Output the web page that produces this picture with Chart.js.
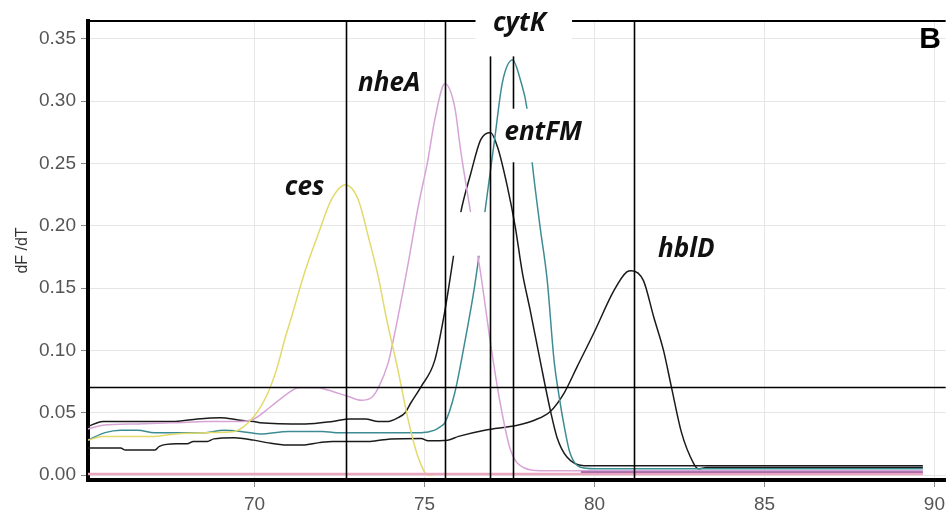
<!DOCTYPE html>
<html lang="en">
  <head>
    <meta charset="utf-8" />
    <title>Melt curve derivative</title>
    <style>
      body { margin: 0; background: #fff; }
      .chartBox { width: 951px; height: 519px; }
    </style>
  </head>
  <body>
    <div class="chartBox">
      <canvas id="myChart" width="951" height="519"></canvas>
    </div>
    <script src="https://cdn.jsdelivr.net/npm/chart.js"></script>
    <script>
      // melt curves, temperature (C) vs dF/dT
      const cesTemp = [65.1, 65.54, 66.06, 67.06, 67.67, 68.61, 69.4, 69.98, 70.36, 70.65, 70.9, 71.09, 71.3, 71.5, 71.88, 72.26, 72.67, 73.05, 73.35, 73.64, 73.87, 74.22, 74.52, 74.81, 75.1, 75.25];
      const cesVal = [0.028, 0.031, 0.031, 0.031, 0.033, 0.034, 0.035, 0.047, 0.064, 0.085, 0.11, 0.127, 0.147, 0.165, 0.194, 0.221, 0.233, 0.221, 0.191, 0.159, 0.127, 0.084, 0.044, 0.0144, 0.0, 0.0];

      const nheATemp = [65.1, 65.54, 66.56, 67.67, 68.61, 69.57, 69.98, 70.48, 70.95, 71.3, 71.88, 72.18, 72.76, 73.14, 73.43, 73.64, 73.93, 74.08, 74.52, 74.81, 75.1, 75.3, 75.6, 75.89, 76.06, 76.36, 76.65, 76.94, 77.21, 77.53, 77.94, 78.4, 89.66];
      const nheAVal = [0.037, 0.04, 0.041, 0.042, 0.043, 0.043, 0.045, 0.055, 0.065, 0.07, 0.07, 0.068, 0.063, 0.06, 0.062, 0.07, 0.09, 0.108, 0.17, 0.215, 0.253, 0.285, 0.314, 0.295, 0.261, 0.21, 0.162, 0.106, 0.06, 0.02, 0.0056, 0.0035, 0.0035];

      const cytKTemp = [65.1, 65.6, 66.06, 66.56, 67.06, 68.5, 69.1, 69.6, 70.16, 71.0, 72.0, 72.4, 74.5, 74.9, 75.3, 75.48, 75.6, 75.89, 76.18, 76.47, 76.77, 77.06, 77.29, 77.59, 77.82, 78.02, 78.17, 78.4, 78.61, 78.81, 78.96, 79.11, 79.28, 79.57, 80.0, 89.66];
      const cytKVal = [0.028, 0.034, 0.036, 0.036, 0.034, 0.034, 0.036, 0.035, 0.033, 0.035, 0.035, 0.034, 0.034, 0.034, 0.036, 0.039, 0.042, 0.066, 0.106, 0.151, 0.21, 0.269, 0.315, 0.333, 0.317, 0.293, 0.25, 0.199, 0.156, 0.092, 0.063, 0.039, 0.0176, 0.0064, 0.005, 0.005];

      const entFMTemp = [65.1, 65.54, 67.67, 68.32, 68.99, 69.57, 69.98, 70.16, 71.5, 72.3, 72.8, 73.26, 73.64, 73.93, 74.22, 74.43, 74.6, 74.9, 75.3, 75.6, 76.06, 76.36, 76.65, 76.94, 77.15, 77.44, 77.67, 77.88, 78.11, 78.4, 78.7, 78.9, 79.19, 79.69, 89.66];
      const entFMVal = [0.039, 0.043, 0.043, 0.045, 0.046, 0.044, 0.043, 0.042, 0.041, 0.043, 0.045, 0.045, 0.043, 0.043, 0.046, 0.05, 0.058, 0.071, 0.092, 0.132, 0.21, 0.242, 0.269, 0.275, 0.263, 0.231, 0.199, 0.162, 0.132, 0.092, 0.052, 0.03, 0.0144, 0.0075, 0.0075];

      const hblDTemp = [65.1, 66.06, 66.2, 67.06, 67.2, 67.7, 68.02, 68.2, 68.61, 68.8, 69.4, 69.98, 70.36, 70.95, 71.4, 71.9, 72.3, 73.4, 74.0, 74.9, 75.1, 75.68, 76.0, 76.77, 77.73, 78.23, 78.7, 79.11, 79.49, 79.98, 80.57, 80.95, 81.09, 81.44, 81.74, 82.03, 82.26, 82.56, 82.91, 83.05, 83.3, 89.66];
      const hblDVal = [0.0216, 0.0216, 0.02, 0.02, 0.023, 0.025, 0.025, 0.027, 0.027, 0.029, 0.03, 0.028, 0.026, 0.024, 0.024, 0.026, 0.027, 0.027, 0.029, 0.0294, 0.0275, 0.028, 0.031, 0.036, 0.04, 0.044, 0.051, 0.066, 0.087, 0.114, 0.148, 0.163, 0.164, 0.156, 0.127, 0.1, 0.071, 0.034, 0.0096, 0.005, 0.006, 0.006];

      // negative controls, flat near zero
      const ntcTemp = [65.1, 89.66];
      const ntcVal = [0.0008, 0.0008];
      const ntc2Temp = [79.6, 89.66];
      const ntc2Val = [0.0022, 0.0022];

      // Tm markers and threshold
      const tmValues = [72.7, 75.6, 76.94, 77.61, 81.15];
      const threshold = 0.071;

      const xTicks = [70, 75, 80, 85, 90];
      const yTicks = [0, 0.05, 0.1, 0.15, 0.2, 0.25, 0.3, 0.35];

      const pts = (t, v) => t.map((x, i) => ({ x: x, y: v[i] }));

      // curve names placed next to their peaks (data units)
      const notes = [
        { text: "ces", x: 71.47, y: 0.231 },
        { text: "nheA", x: 73.96, y: 0.314 },
        { text: "cytK", x: 77.79, y: 0.362, box: [76.5, 79.34, 0.336, 0.42] },
        { text: "entFM", x: 78.49, y: 0.275, box: [77.45, 79.8, 0.251, 0.294] },
        { text: "hblD", x: 82.7, y: 0.1806 },
      ];
      const blank = [75.66, 77.0, 0.176, 0.211];

      const overlay = {
        id: "overlay",
        afterDatasetsDraw(chart) {
          const { ctx, chartArea: a, scales: { x, y } } = chart;
          ctx.save();
          ctx.fillStyle = "#fff";
          ctx.fillRect(x.getPixelForValue(blank[0]), y.getPixelForValue(blank[3]),
            x.getPixelForValue(blank[1]) - x.getPixelForValue(blank[0]),
            y.getPixelForValue(blank[2]) - y.getPixelForValue(blank[3]));

          ctx.strokeStyle = "#000";
          ctx.lineWidth = 1.6;
          tmValues.forEach((t) => {
            const px = Math.round(x.getPixelForValue(t)) + 0.5;
            ctx.beginPath();
            ctx.moveTo(px, a.top);
            ctx.lineTo(px, a.bottom);
            ctx.stroke();
          });
          const py = Math.round(y.getPixelForValue(threshold)) + 0.5;
          ctx.beginPath();
          ctx.moveTo(a.left, py);
          ctx.lineTo(a.right, py);
          ctx.stroke();

          // top frame
          ctx.lineWidth = 2;
          ctx.beginPath();
          ctx.moveTo(a.left, a.top);
          ctx.lineTo(a.right, a.top);
          ctx.stroke();

          ctx.font = "italic bold 26px 'Open Sans'";
          ctx.textAlign = "center";
          ctx.textBaseline = "middle";
          notes.forEach((n) => {
            if (n.box) {
              const bx = x.getPixelForValue(n.box[0]);
              const by = y.getPixelForValue(n.box[3]);
              ctx.fillStyle = "#fff";
              ctx.fillRect(bx, by, x.getPixelForValue(n.box[1]) - bx, y.getPixelForValue(n.box[2]) - by);
            }
            ctx.fillStyle = "#111";
            ctx.fillText(n.text, x.getPixelForValue(n.x), y.getPixelForValue(n.y));
          });

          ctx.font = "bold 30px 'Liberation Sans'";
          ctx.fillStyle = "#000";
          ctx.fillText("B", x.getPixelForValue(89.87), y.getPixelForValue(0.349));
          ctx.restore();
        },
      };

      Chart.defaults.font.family = "'Liberation Sans'";

      const line = (data, color, width) => ({
        data: data,
        borderColor: color,
        borderWidth: width,
        pointRadius: 0,
        fill: false,
        cubicInterpolationMode: "monotone",
      });

      const config = {
        type: "line",
        data: {
          datasets: [
            line(pts(ntcTemp, ntcVal), "#eaa5bf", 2.5),
            line(pts(ntc2Temp, ntc2Val), "#9a5aa0", 2),
            line(pts(cesTemp, cesVal), "#e2da6a", 1.5),
            line(pts(nheATemp, nheAVal), "#d7a4d6", 1.5),
            line(pts(cytKTemp, cytKVal), "#3e8c93", 1.5),
            line(pts(entFMTemp, entFMVal), "#1b1b1b", 1.5),
            line(pts(hblDTemp, hblDVal), "#1b1b1b", 1.5),
          ],
        },
        plugins: [overlay],
        options: {
          responsive: false,
          animation: false,
          layout: { padding: { top: 21, right: 0, left: 0, bottom: 0 } },
          plugins: { legend: { display: false }, tooltip: { enabled: false } },
          scales: {
            x: {
              type: "linear",
              min: 65.1,
              max: 90.33,
              afterBuildTicks: (s) => { s.ticks = xTicks.map((v) => ({ value: v })); },
              afterFit: (s) => { s.height = 39; },
              grid: { color: "#e6e6e6", tickColor: "#888", tickLength: 7 },
              border: { color: "#000", width: 4 },
              ticks: { color: "#555", font: { size: 19 }, padding: 6, maxRotation: 0 },
            },
            y: {
              min: -0.004,
              max: 0.3644,
              afterBuildTicks: (s) => { s.ticks = yTicks.map((v) => ({ value: v })); },
              afterFit: (s) => { s.width = 88; },
              grid: { color: "#e6e6e6", tickColor: "#888", tickLength: 7 },
              border: { color: "#000", width: 4 },
              ticks: {
                color: "#555",
                font: { size: 19 },
                padding: 5,
                callback: (v) => v.toFixed(2),
              },
              title: {
                display: true,
                text: "dF /dT",
                color: "#333",
                font: { size: 16 },
                padding: { top: 13, bottom: 0 },
              },
            },
          },
        },
      };

      const myChart = new Chart(document.getElementById("myChart"), config);
    </script>
  </body>
</html>
